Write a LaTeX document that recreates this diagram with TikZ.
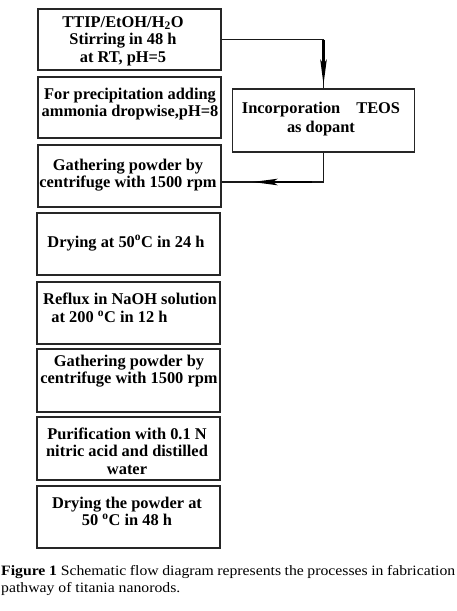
\documentclass[tikz,border=0pt]{standalone}
\usepackage{fontspec}
\setmainfont{Liberation Serif}
\newfontfamily\capfont[FakeStretch=1.1]{Liberation Serif}
\usetikzlibrary{arrows.meta}
\begin{document}
\begin{tikzpicture}[x=1pt,y=-1pt,
  box/.style={draw=black!85, line width=1.2pt, minimum width=183pt, inner sep=0pt},
  txt/.style={font=\fontsize{16.4}{17.6}\selectfont\bfseries, align=center, inner sep=0pt},
  conn/.style={line width=1.2pt, draw=black!90},
  headseg/.style={line width=2.2pt, draw=black, -{Stealth[length=25pt,width=6.5pt,inset=5pt]}},
  captxt/.style={font=\capfont\fontsize{14.3}{17}\selectfont, inner sep=0pt, anchor=base west}]
\useasboundingbox (0,0) rectangle (457,611);
% boxes
\node[box, minimum height=61pt] (b1) at (129.5,39.5) {};
\node[box, minimum height=61pt] (b2) at (129.5,107.5) {};
\node[box, minimum height=62pt] (b3) at (129.5,176) {};
\node[box, minimum height=62pt] (b4) at (128.5,244) {};
\node[box, minimum height=62pt] (b5) at (128.5,313) {};
\node[box, minimum height=63pt] (b6) at (128.5,380.5) {};
\node[box, minimum height=63pt] (b7) at (128.5,448.5) {};
\node[box, minimum height=62pt] (b8) at (128.5,517) {};
\node[box, minimum width=182pt, minimum height=63pt] (rb) at (323.5,120.5) {};
% texts
\node[txt] (t1) at (123,41) {TTIP/EtOH/H\textsubscript{2}O\\Stirring in 48 h\\at RT, pH=5};
\node[txt] (t2) at (130,104) {For precipitation adding\\ammonia dropwise,pH=8};
\node[txt] (t3) at (128,175) {Gathering powder by\\centrifuge with 1500 rpm};
\node[txt] (t4) at (126,243) {Drying at 50\textsuperscript{o}C in 24 h};
\node[txt] (t5) at (130,308) {Reflux in NaOH solution\\at 200 \textsuperscript{o}C in 12 h\hphantom{xxxxx}};
\node[txt] (t6) at (129,371) {Gathering powder by\\centrifuge with 1500 rpm};
\node[txt] (t7) at (127,451) {Purification with 0.1 N\\nitric acid and distilled\\water};
\node[txt] (t8) at (127,511.5) {Drying the powder at\\50 \textsuperscript{o}C in 48 h};
\node[txt] (tr) at (321,119) {Incorporation\hspace{16pt}TEOS\\[2pt]as dopant};
% connectors
\coordinate (c1) at (b1.east -| rb.north);
\coordinate (c2) at ([yshift=-6pt]b3.east);
\coordinate (c3) at (rb.south |- c2);
\draw[conn] (b1.east) -- (c1) -- (rb.north);
\draw[headseg] (c1) -- ([yshift=4pt]rb.north);
\draw[conn] (rb.south) -- (c3) -- (c2);
\draw[headseg] ([xshift=-12pt]c3) -- ([xshift=31pt]c2);
% caption
\node[captxt] (cap1) at (1,575) {\makebox[454pt][s]{\bfseries Figure 1\hspace{4pt}\mdseries Schematic flow diagram represents the processes in fabrication}};
\node[captxt] (cap2) at (1,592) {pathway of titania nanorods.};
\end{tikzpicture}
\end{document}
